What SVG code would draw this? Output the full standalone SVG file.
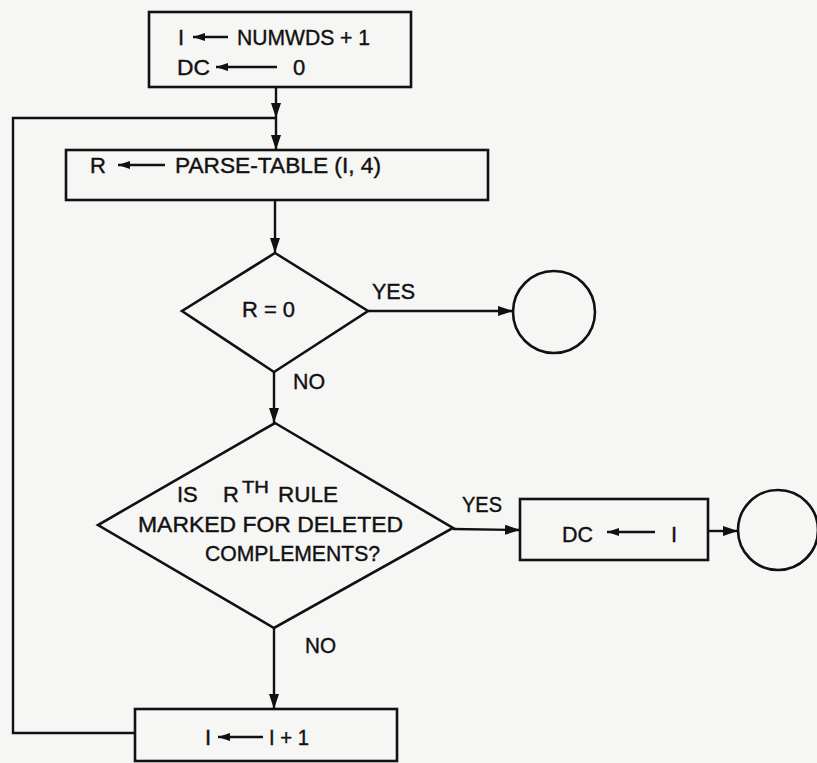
<svg xmlns="http://www.w3.org/2000/svg" width="817" height="763" viewBox="0 0 817 763">
<style>
.bg{fill:#f6f6f4}
.shape{fill:none;stroke:#111;stroke-width:2.6}
.conn{fill:none;stroke:#111;stroke-width:2.4}
.ia{fill:none;stroke:#111;stroke-width:2.4}
text{font-family:"Liberation Sans",Arial,sans-serif;font-size:22px;fill:#111;stroke:#111;stroke-width:0.4}
.sup{font-size:17px}
</style>
<defs>
<marker id="ah" markerUnits="userSpaceOnUse" markerWidth="16" markerHeight="12" refX="15" refY="5" orient="auto">
<path d="M0,0 L15,5 L0,10 Z" fill="#111"/>
</marker>
<marker id="sh" markerUnits="userSpaceOnUse" markerWidth="14" markerHeight="10" refX="0" refY="4" orient="auto">
<path d="M0,4 L12,0 L12,8 Z" fill="#111"/>
</marker>
</defs>
<rect class="bg" x="0" y="0" width="817" height="763"/>

<g id="connectors">
<line class="conn" x1="276" y1="87" x2="276" y2="118" marker-end="url(#ah)"/>
<path class="conn" d="M135,733 L13,733 L13,118 L276,118"/>
<line class="conn" x1="276" y1="118" x2="276" y2="150" marker-end="url(#ah)"/>
<line class="conn" x1="275" y1="200" x2="275" y2="253" marker-end="url(#ah)"/>
<line class="conn" x1="368" y1="311" x2="513" y2="311" marker-end="url(#ah)"/>
<line class="conn" x1="274" y1="372" x2="274" y2="423" marker-end="url(#ah)"/>
<line class="conn" x1="453" y1="529" x2="520" y2="530" marker-end="url(#ah)"/>
<line class="conn" x1="708" y1="531" x2="738" y2="531" marker-end="url(#ah)"/>
<line class="conn" x1="274" y1="628" x2="274" y2="709" marker-end="url(#ah)"/>
<text x="372" y="299" textLength="43" lengthAdjust="spacingAndGlyphs">YES</text>
<text x="293" y="389" textLength="32" lengthAdjust="spacingAndGlyphs">NO</text>
<text x="462" y="512" textLength="40" lengthAdjust="spacingAndGlyphs">YES</text>
<text x="305" y="653" textLength="31" lengthAdjust="spacingAndGlyphs">NO</text>
</g>

<g id="init">
<rect class="shape" x="149" y="12" width="262" height="75"/>
<text x="178" y="45">I</text>
<line class="ia" x1="193" y1="37" x2="228" y2="37" marker-start="url(#sh)"/>
<text x="237" y="45" textLength="133" lengthAdjust="spacingAndGlyphs">NUMWDS + 1</text>
<text x="177" y="75" textLength="33" lengthAdjust="spacingAndGlyphs">DC</text>
<line class="ia" x1="216" y1="67" x2="277" y2="67" marker-start="url(#sh)"/>
<text x="293" y="75">0</text>
</g>

<g id="parse">
<rect class="shape" x="66" y="150" width="422" height="50"/>
<text x="90" y="173">R</text>
<line class="ia" x1="118" y1="165" x2="165" y2="165" marker-start="url(#sh)"/>
<text x="175" y="173" textLength="206" lengthAdjust="spacingAndGlyphs">PARSE-TABLE (I, 4)</text>
</g>

<g id="test-r">
<polygon class="shape" points="275,253 368,311 274,372 182,311"/>
<text x="242" y="317" textLength="53" lengthAdjust="spacingAndGlyphs">R = 0</text>
</g>

<g id="end1">
<circle class="shape" cx="554" cy="312" r="41"/>
</g>

<g id="test-rule">
<polygon class="shape" points="275,423 453,528 274,628 98,525"/>
<text x="177" y="502">IS</text>
<text x="223" y="502">R</text>
<text class="sup" x="242" y="493" textLength="27" lengthAdjust="spacingAndGlyphs">TH</text>
<text x="278" y="502" textLength="60" lengthAdjust="spacingAndGlyphs">RULE</text>
<text x="138" y="532" textLength="265" lengthAdjust="spacingAndGlyphs">MARKED FOR DELETED</text>
<text x="205" y="561" textLength="175" lengthAdjust="spacingAndGlyphs">COMPLEMENTS?</text>
</g>

<g id="set-dc">
<rect class="shape" x="520" y="499" width="188" height="61"/>
<text x="562" y="542" textLength="31" lengthAdjust="spacingAndGlyphs">DC</text>
<line class="ia" x1="607" y1="532" x2="655" y2="532" marker-start="url(#sh)"/>
<text x="671" y="542">I</text>
</g>

<g id="end2">
<circle class="shape" cx="778" cy="530" r="40"/>
</g>

<g id="incr">
<rect class="shape" x="135" y="709" width="262" height="52"/>
<text x="205" y="745">I</text>
<line class="ia" x1="218" y1="737" x2="263" y2="737" marker-start="url(#sh)"/>
<text x="269" y="745" textLength="40" lengthAdjust="spacingAndGlyphs">I + 1</text>
</g>
</svg>
